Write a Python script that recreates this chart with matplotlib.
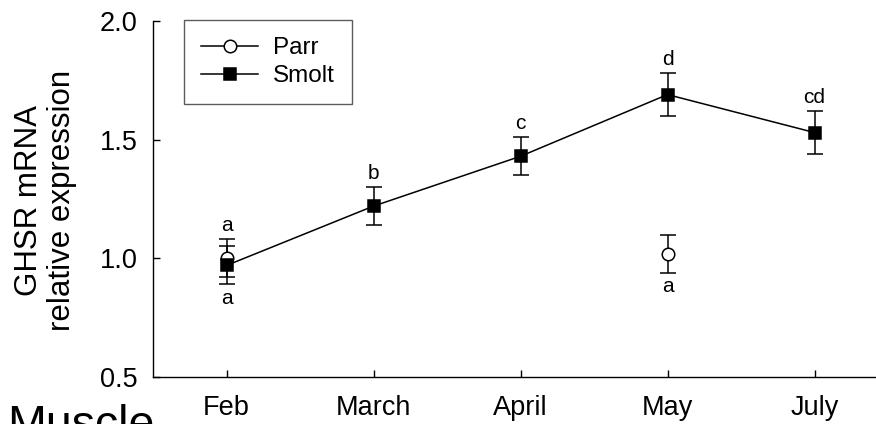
import numpy as np
import matplotlib
matplotlib.use("Agg")
import matplotlib.pyplot as plt
from matplotlib.lines import Line2D

# --- Data ---
months = ["Feb", "March", "April", "May", "July"]
smolt = [0.97, 1.22, 1.43, 1.69, 1.53]
smolt_err = [0.08, 0.08, 0.08, 0.09, 0.09]
parr = [1.00, np.nan, np.nan, 1.02, np.nan]
parr_err = [0.08, np.nan, np.nan, 0.08, np.nan]
letters_above = ["a", "b", "c", "d", "cd"]
letters_below = ["a", "", "", "a", ""]

plt.rcParams["font.family"] = ["Liberation Sans", "DejaVu Sans"]

W, H = 876, 424
fig = plt.figure(figsize=(W / 100, H / 100), dpi=100)

# axes in pixel terms: left spine at 153, x range -0.5..4.5 spans 147 px per month
left, right, top, bottom = 153, 153 + 147 * 5, 21, 377
ax = fig.add_axes([left / W, (H - bottom) / H, (right - left) / W, (bottom - top) / H])

x = np.arange(len(months))
style = dict(color="black", mec="black", ms=9, mew=1.1, lw=1.1,
             capsize=5.5, capthick=1.1, elinewidth=1.1)

ax.errorbar(x, parr, yerr=parr_err, fmt="-o", mfc="white", **style)
ax.errorbar(x, smolt, yerr=smolt_err, fmt="-s", mfc="black", **style)

# significance letters above / below the error bars
for i in range(len(months)):
    hi = smolt[i] + smolt_err[i]
    lo = smolt[i] - smolt_err[i]
    if not np.isnan(parr[i]):
        hi = max(hi, parr[i] + parr_err[i])
        lo = min(lo, parr[i] - parr_err[i])
    if letters_above[i]:
        ax.annotate(letters_above[i], (x[i], hi), xytext=(0, 10), textcoords="offset points",
                    ha="center", va="center", fontsize=15)
    if letters_below[i]:
        ax.annotate(letters_below[i], (x[i], lo), xytext=(0, -10), textcoords="offset points",
                    ha="center", va="center", fontsize=15)

ax.set_xlim(-0.5, 4.5)
ax.set_ylim(0.5, 2.0)
ax.set_xticks(x)
ax.set_xticklabels(months)
ax.set_yticks([0.5, 1.0, 1.5, 2.0])
ax.set_yticklabels(["0.5", "1.0", "1.5", "2.0"])
ax.tick_params(axis="both", direction="in", length=5, width=1.0, labelsize=19.5)
ax.tick_params(axis="x", pad=13)
ax.tick_params(axis="y", pad=11)
ax.spines["top"].set_visible(False)
ax.spines["right"].set_visible(False)
for s in ("left", "bottom"):
    ax.spines[s].set_linewidth(1.0)

fig.text(45.5 / W, (H - 200) / H, "GHSR mRNA\nrelative expression", rotation=90,
         ha="center", va="center", multialignment="center", fontsize=22.5, linespacing=1.15)

handles = [
    Line2D([], [], color="black", lw=1.1, marker="o", ms=9, mfc="white", mec="black", mew=1.1),
    Line2D([], [], color="black", lw=1.1, marker="s", ms=9, mfc="black", mec="black", mew=1.1),
]
leg = ax.legend(handles, ["Parr", "Smolt"], loc="upper left",
                bbox_to_anchor=(184 / W, (H - 20) / H),
                bbox_transform=fig.transFigure, borderaxespad=0, fancybox=False,
                frameon=True, edgecolor="#333333", fontsize=17.5, numpoints=1,
                handlelength=2.35, handletextpad=0.6, labelspacing=0.25, borderpad=0.7)
leg.get_frame().set_linewidth(1.0)

# panel title, cut off at the bottom of the figure as in the source
fig.text(7 / W, (H - 438) / H, "Muscle", ha="left", va="baseline", fontsize=33.5)

fig.savefig("out.png", dpi=100)
